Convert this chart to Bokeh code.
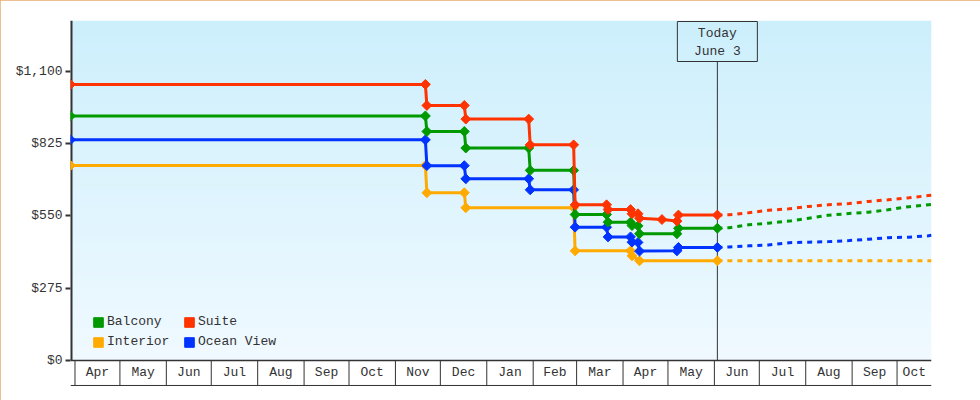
import numpy as np
import pandas as pd
from bokeh.plotting import figure
from bokeh.models import Range1d, FixedTicker, NumeralTickFormatter, Legend, LegendItem
from bokeh.core.properties import value
from bokeh.embed import file_html
from bokeh.resources import INLINE

FONT = "Liberation Mono"
INK = "#333333"

# ---------------- data ----------------
suite_dates = ["2023-03-29", "2023-11-21", "2023-11-22", "2023-12-17", "2023-12-18",
               "2024-01-29", "2024-01-30", "2024-02-28", "2024-02-29", "2024-03-21",
               "2024-03-22", "2024-04-06", "2024-04-07", "2024-04-11", "2024-04-12",
               "2024-04-27", "2024-05-07", "2024-05-08", "2024-06-03"]
suite_prices = [1050, 1050, 970, 970, 918, 918, 820, 820, 592, 592,
                574, 574, 558, 558, 541, 536, 530, 553, 553]

balcony_dates = ["2023-03-29", "2023-11-21", "2023-11-22", "2023-12-17", "2023-12-18",
                 "2024-01-29", "2024-01-30", "2024-02-28", "2024-02-29", "2024-03-21",
                 "2024-03-22", "2024-04-06", "2024-04-07", "2024-04-11", "2024-04-12",
                 "2024-05-07", "2024-05-08", "2024-06-03"]
balcony_prices = [930, 930, 871, 871, 808, 808, 723, 723, 555, 555,
                  526, 526, 513, 512, 482, 482, 503, 503]

ocean_dates = ["2023-03-29", "2023-11-21", "2023-11-22", "2023-12-17", "2023-12-18",
               "2024-01-29", "2024-01-30", "2024-02-28", "2024-02-29", "2024-03-21",
               "2024-03-22", "2024-04-06", "2024-04-07", "2024-04-11", "2024-04-12",
               "2024-05-07", "2024-05-08", "2024-06-03"]
ocean_prices = [839, 839, 741, 741, 691, 691, 649, 649, 507, 507,
                470, 470, 450, 449, 416, 417, 430, 430]

interior_dates = ["2023-03-29", "2023-11-21", "2023-11-22", "2023-12-17", "2023-12-18",
                  "2024-02-28", "2024-02-29", "2024-04-06", "2024-04-07", "2024-04-12",
                  "2024-06-03"]
interior_prices = [742, 742, 638, 638, 581, 581, 417, 417, 398, 379, 379]

forecast_dates = ["2024-06-03", "2024-06-11", "2024-06-24", "2024-07-07", "2024-07-21",
                  "2024-08-03", "2024-08-16", "2024-08-30", "2024-09-12", "2024-09-25",
                  "2024-10-09", "2024-10-22", "2024-10-24"]
suite_forecast = [553, 554, 562, 571, 577, 586, 592, 597, 605, 611, 619, 627, 628]
balcony_forecast = [503, 505, 516, 522, 530, 541, 552, 559, 564, 573, 585, 592, 593]
ocean_forecast = [430, 432, 436, 439, 448, 450, 452, 456, 461, 467, 469, 474, 476]
interior_forecast = [379, 379, 379, 379, 379, 379, 379, 379, 379, 379, 379, 379, 379]

month_starts = ["2023-04-01", "2023-05-01", "2023-06-01", "2023-07-01", "2023-08-01",
                "2023-09-01", "2023-10-01", "2023-11-01", "2023-12-01", "2024-01-01",
                "2024-02-01", "2024-03-01", "2024-04-01", "2024-05-01", "2024-06-01",
                "2024-07-01", "2024-08-01", "2024-09-01", "2024-10-01"]
month_labels = ["Apr", "May", "Jun", "Jul", "Aug", "Sep", "Oct", "Nov", "Dec", "Jan",
                "Feb", "Mar", "Apr", "May", "Jun", "Jul", "Aug", "Sep", "Oct"]
y_ticks = [0, 275, 550, 825, 1100]
today = "2024-06-03"
today_text = ["Today", "June 3"]
x_start, x_end = "2023-03-29", "2024-10-24"

series = [  # drawing order: bottom to top
    ("Interior", "#ffaa00", interior_dates, interior_prices, interior_forecast),
    ("Ocean View", "#0033ff", ocean_dates, ocean_prices, ocean_forecast),
    ("Balcony", "#009900", balcony_dates, balcony_prices, balcony_forecast),
    ("Suite", "#ff3300", suite_dates, suite_prices, suite_forecast),
]
legend_order = ["Balcony", "Suite", "Interior", "Ocean View"]


def ms(v):
    return pd.Timestamp(v).value / 1e6


def ms_list(vs):
    return [ms(v) for v in vs]


# ---------------- layout ----------------
W, H = 980, 400
ML, MR, MT, MB = 70, 49, 20, 14
Y_TOP, Y_BOTTOM = 1293, -99
FRAME_H = H - MT - MB
PX = FRAME_H / (Y_TOP - Y_BOTTOM)   # pixels per dollar
BOX_BOTTOM = -25 / PX               # month strip below $0

xs, xe = ms(x_start), ms(x_end)

p = figure(width=W, height=H, x_axis_type=None, output_backend="svg", toolbar_location=None,
           x_range=Range1d(xs, xe), y_range=Range1d(Y_BOTTOM, Y_TOP),
           min_border_left=ML, min_border_right=MR, min_border_top=MT, min_border_bottom=MB)
p.background_fill_color = "white"
p.border_fill_color = "white"
p.outline_line_color = None
p.grid.visible = False
p.styles = {"outline": "1px solid #e8ac70", "outline-offset": "-1px"}

ya = p.yaxis[0]
ya.ticker = FixedTicker(ticks=y_ticks)
ya.formatter = NumeralTickFormatter(format="$0,0")
ya.axis_line_color = None
ya.major_tick_in = 0
ya.major_tick_out = 5
ya.major_tick_line_width = 2
ya.major_tick_line_color = INK
ya.minor_tick_line_color = None
ya.major_label_standoff = 3
ya.major_label_text_font = FONT
ya.major_label_text_font_size = "13px"
ya.major_label_text_color = INK

# gradient plot background above $0
rows = 256
t = np.linspace(0, 1, rows)[:, None]
c_bot = np.array([240, 249, 255], dtype=float)
c_top = np.array([204, 239, 252], dtype=float)
rgb = c_bot + (c_top - c_bot) * t
img = np.zeros((rows, 2, 4), dtype=np.uint8)
img[..., :3] = np.round(rgb[:, None, :]).astype(np.uint8)
img[..., 3] = 255
p.image_rgba(image=[img.view(np.uint32).reshape(rows, 2)], x=xs, y=0, dw=xe - xs, dh=Y_TOP)

# y axis rule
p.segment(x0=[xs], y0=[0], x1=[xs], y1=[Y_TOP], line_color=INK, line_width=4)

# month strip
mx = ms_list(month_starts)
n = len(mx)
p.segment(x0=mx, y0=[BOX_BOTTOM] * n, x1=mx, y1=[0] * n, line_color=INK, line_width=1)
p.segment(x0=[xs], y0=[0], x1=[xe], y1=[0], line_color=INK, line_width=1.5)
p.segment(x0=[xs], y0=[BOX_BOTTOM], x1=[xe], y1=[BOX_BOTTOM], line_color=INK, line_width=1)
ends = mx[1:] + [xe]
centers = [(a + b) / 2 for a, b in zip(mx, ends)]
p.text(x=centers, y=[BOX_BOTTOM / 2] * n, text=month_labels, text_font=value(FONT),
       text_font_size="13px", text_color=INK, text_align="center", text_baseline="middle")

# today marker line and box
tx = ms(today)
box_top = Y_TOP - 1 / PX
box_h = 40
box_bot = box_top - box_h / PX
p.segment(x0=[tx], y0=[0], x1=[tx], y1=[box_bot], line_color=INK, line_width=1)
p.rect(x=[tx], y=[(box_top + box_bot) / 2], width=80, height=box_h,
       width_units="screen", height_units="screen", fill_color=None, line_color=INK, line_width=1)
p.text(x=[tx, tx], y=[box_top - 12 / PX, box_top - 29.5 / PX], text=today_text,
       text_font=value(FONT), text_font_size="13px", text_color=INK,
       text_align="center", text_baseline="middle")

# series
for name, color, dates, prices, fc in series:
    p.line(ms_list(forecast_dates), fc, line_color=color, line_width=3, line_dash="5 5")
    xd = ms_list(dates)
    p.line(xd, prices, line_color=color, line_width=3)
    p.scatter(xd, prices, marker="square", angle=np.pi / 4, size=7,
              fill_color=color, line_color=color)

# legend with square swatches (swatch renderers carry no visible data)
colors = {s[0]: s[1] for s in series}
items = []
for name in legend_order:
    r = p.quad(left=[np.nan], right=[np.nan], top=[np.nan], bottom=[np.nan],
               fill_color=colors[name], line_color=colors[name])
    items.append(LegendItem(label=name, renderers=[r]))
legend = Legend(items=items, location=(22, 37), orientation="horizontal", ncols=2,
                glyph_width=12, glyph_height=12, label_standoff=3, label_width=71,
                label_height=14, spacing=5, padding=0, margin=0,
                border_line_color=None, background_fill_alpha=0,
                label_text_font=FONT, label_text_font_size="13px", label_text_color=INK)
p.add_layout(legend)

open("out.html", "w").write(file_html(p, INLINE))
